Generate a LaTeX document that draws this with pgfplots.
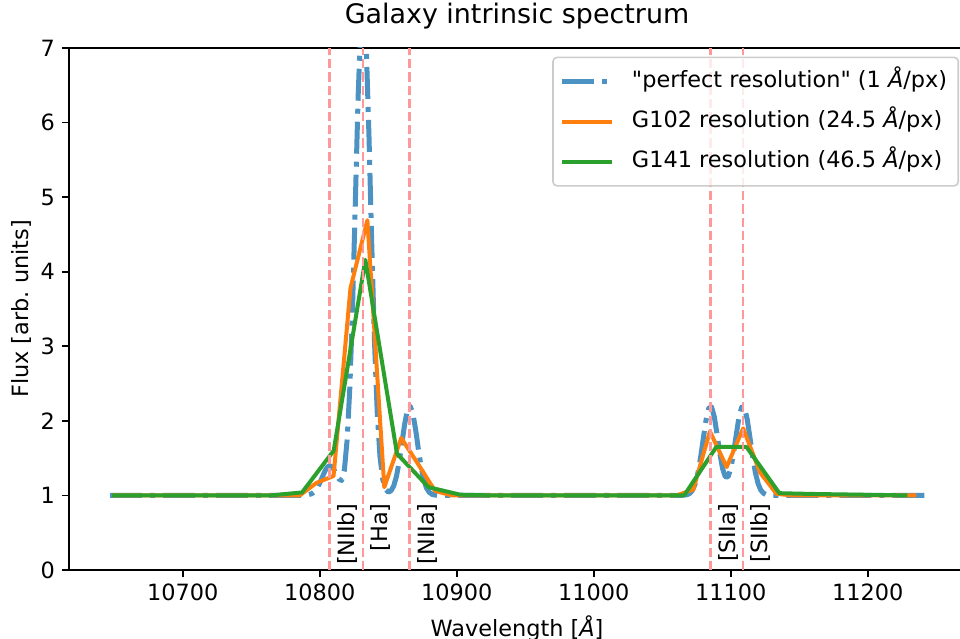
\documentclass[border=0pt]{standalone}
\usepackage{fontspec}
\setmainfont{DejaVu Sans}[Ligatures=TeXOff]
\usepackage{pgfplots}
\pgfplotsset{compat=1.18}
\usetikzlibrary{calc}
\definecolor{cblue}{RGB}{76,146,195}
\definecolor{corange}{RGB}{255,127,14}
\definecolor{cgreen}{RGB}{44,160,44}
\definecolor{cred}{RGB}{255,153,153}
\definecolor{legframe}{RGB}{204,204,204}
\newcommand{\fs}{\fontsize{11.2bp}{13.4bp}\selectfont}
\begin{document}
\begin{tikzpicture}
\begin{axis}[
  scale only axis, width=448bp, height=261bp,
  xmin=10617, xmax=11271, ymin=0, ymax=7,
  xtick={10700,10800,...,11200}, ytick={0,1,...,7},
  scaled ticks=false,
  /pgf/number format/1000 sep={},
  /pgf/number format/assume math mode=true,
  tick label style={font=\fs},
  tick align=outside, tick pos=left, major tick length=3.5bp,
  every tick/.style={black, line width=0.8bp},
  axis line style={line width=0.8bp},
  title={Galaxy intrinsic spectrum},
  title style={font=\fontsize{13.45bp}{16bp}\selectfont, at={(axis description cs:0.5,1)}, anchor=base, yshift=6.5bp},
  xlabel={Wavelength [\textit{Å}]},
  xlabel style={font=\fs, at={(axis description cs:0.5,0)}, anchor=base, yshift=-33bp},
  ylabel={Flux [arb.\ units]},
  ylabel style={font=\fs, at={($(axis description cs:0,0.5)+(-20.3bp,0)$)}, anchor=base},
  legend style={at={(axis description cs:1,1)}, anchor=north east, xshift=-3bp, yshift=-4.3bp,
    draw=legframe, line width=0.8bp, rounded corners=2bp, fill=white, fill opacity=0.8, text opacity=1,
    font=\fs, inner xsep=3.5bp, inner ysep=4.6bp, row sep=5bp, column sep=6.5bp,
    nodes={inner sep=2bp, text height=8.6bp, text depth=2.4bp}},
  legend cell align=left,
  legend image code/.code={\draw[#1] (0bp,0bp) -- (25bp,0bp);},
]
\addplot[cblue, line width=2.5bp, dash pattern=on 16bp off 4bp on 2.5bp off 4bp, line join=round] coordinates {
(10647,1.000) (10780,1.000) (10786,1.000) (10790,1.003) (10794,1.021) (10796,1.048) (10798,1.096) (10800,1.166) (10802,1.251) (10804,1.334) (10806,1.389) (10808,1.397) (10810,1.358) (10812,1.289) (10814,1.220) (10816,1.200) (10818,1.340) (10820,1.742) (10822,2.450) (10824,3.545) (10826,4.931) (10828,6.328) (10830,7.327) (10832,7.583) (10834,7.001) (10836,5.792) (10838,4.354) (10840,3.056) (10842,2.104) (10844,1.520) (10846,1.217) (10848,1.084) (10850,1.045) (10852,1.061) (10854,1.127) (10856,1.254) (10858,1.450) (10860,1.701) (10862,1.957) (10864,2.144) (10866,2.198) (10868,2.100) (10870,1.884) (10872,1.623) (10874,1.384) (10876,1.208) (10878,1.098) (10880,1.041) (10882,1.015) (10884,1.005) (10888,1.000) (11060,1.000) (11064,1.001) (11068,1.009) (11070,1.026) (11072,1.067) (11074,1.151) (11076,1.296) (11078,1.509) (11080,1.768) (11082,2.013) (11084,2.172) (11086,2.187) (11088,2.055) (11090,1.823) (11092,1.570) (11094,1.364) (11096,1.251) (11098,1.248) (11100,1.356) (11102,1.558) (11104,1.810) (11106,2.045) (11108,2.184) (11110,2.176) (11112,2.024) (11114,1.781) (11116,1.522) (11118,1.305) (11120,1.157) (11122,1.070) (11124,1.028) (11126,1.010) (11130,1.001) (11134,1.000) (11245,1.000)
};
\addlegendentry{"perfect resolution" (1 \textit{Å}/px)}
\addplot[corange, line width=2bp, line join=round] coordinates {
(10649,1.00) (10773,1.00) (10785.4,1.00) (10797.75,1.17) (10810.1,1.26) (10822.45,3.78) (10834.8,4.69) (10847.15,1.11) (10859.5,1.77) (10871.85,1.42) (10884.2,1.06) (10896.55,1.00) (11060.5,1.00) (11072.7,1.08) (11084.8,1.86) (11097.0,1.38) (11109.1,1.90) (11121.3,1.31) (11133.5,1.02) (11145.7,1.00) (11235.5,1.00)
};
\addlegendentry{G102 resolution (24.5 \textit{Å}/px)}
\addplot[cgreen, line width=2bp, line join=round] coordinates {
(10648.5,1.00) (10764,1.00) (10787.1,1.04) (10810.2,1.60) (10833.3,4.16) (10856.4,1.56) (10879.5,1.11) (10902.6,1.01) (10925.7,1.00) (11043,1.00) (11066,1.00) (11089.5,1.65) (11111.5,1.65) (11135.5,1.03) (11158.6,1.02) (11229,1.00)
};
\addlegendentry{G141 resolution (46.5 \textit{Å}/px)}
\addplot[cred, line width=1.25bp, dash pattern=on 4.6bp off 2bp, forget plot] coordinates {(10807.3,0) (10807.3,7)};
\addplot[cred, line width=1.25bp, dash pattern=on 4.6bp off 2bp, forget plot] coordinates {(10831.6,0) (10831.6,7)};
\addplot[cred, line width=1.25bp, dash pattern=on 4.6bp off 2bp, forget plot] coordinates {(10865.7,0) (10865.7,7)};
\addplot[cred, line width=1.25bp, dash pattern=on 4.6bp off 2bp, forget plot] coordinates {(11085.2,0) (11085.2,7)};
\addplot[cred, line width=1.25bp, dash pattern=on 4.6bp off 2bp, forget plot] coordinates {(11108.9,0) (11108.9,7)};
\node[rotate=90, anchor=north east, inner sep=0pt, font=\fs] at (axis cs:10812.8,0.9) {[NIIb]};
\node[rotate=90, anchor=north east, inner sep=0pt, font=\fs] at (axis cs:10837.1,0.9) {[Ha]};
\node[rotate=90, anchor=north east, inner sep=0pt, font=\fs] at (axis cs:10871.2,0.9) {[NIIa]};
\node[rotate=90, anchor=north east, inner sep=0pt, font=\fs] at (axis cs:11090.7,0.9) {[SIIa]};
\node[rotate=90, anchor=north east, inner sep=0pt, font=\fs] at (axis cs:11114.4,0.9) {[SIIb]};
\end{axis}
\pgfresetboundingbox
\path[use as bounding box] ($(current axis.south west)+(-34.5bp,-34.35bp)$) rectangle ($(current axis.north west)+(445.5bp,24bp)$);
\end{tikzpicture}
\end{document}
